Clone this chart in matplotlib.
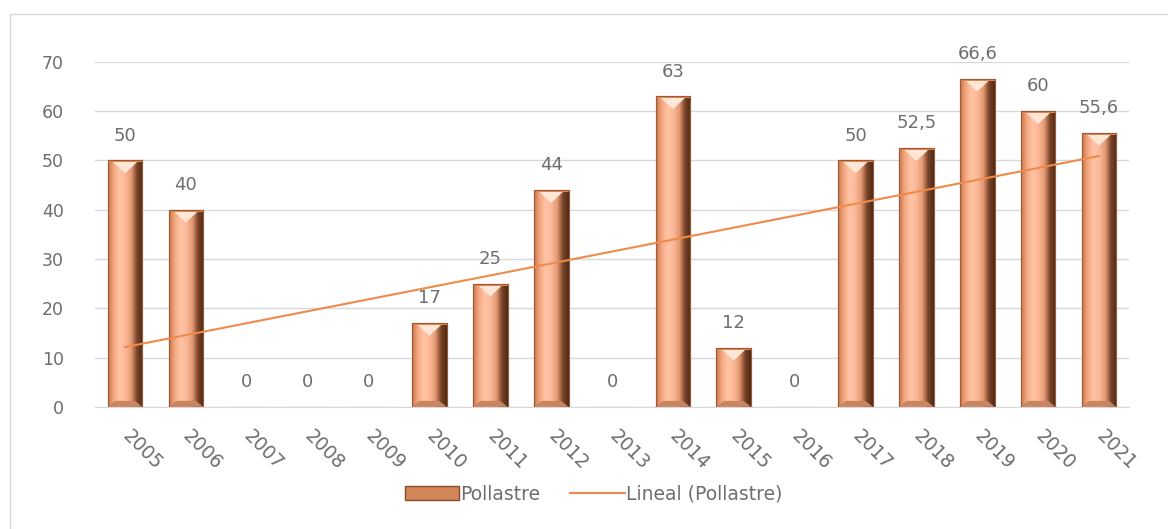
import numpy as np
import matplotlib.pyplot as plt
from matplotlib.colors import LinearSegmentedColormap
from matplotlib.patches import Polygon, Rectangle, Patch
from matplotlib.lines import Line2D

plt.rcParams['font.family'] = ['DejaVu Sans']

years = ['2005', '2006', '2007', '2008', '2009', '2010', '2011', '2012', '2013',
         '2014', '2015', '2016', '2017', '2018', '2019', '2020', '2021']
values = [50, 40, 0, 0, 0, 17, 25, 44, 0, 63, 12, 0, 50, 52.5, 66.6, 60, 55.6]
value_labels = ['50', '40', '0', '0', '0', '17', '25', '44', '0', '63', '12', '0',
                '50', '52,5', '66,6', '60', '55,6']

grey = '#6E6E6E'
x = np.arange(len(years))

fig = plt.figure(figsize=(11.68, 5.29), dpi=100)
ax = fig.add_axes([0.081, 0.231, 0.886, 0.652])

# chart border
fig.patches.append(Rectangle((10 / 1168, -0.1), 1.2, 1 - 14 / 529 + 0.1,
                             transform=fig.transFigure, fill=False,
                             edgecolor='#D9D9D9', lw=1))

bars = ax.bar(x, values, width=0.57, color='#F9B48E', edgecolor='#B5643A',
              lw=0.8, zorder=2)

# bevel shading for each bar
cmap = LinearSegmentedColormap.from_list(
    'bev', ['#C8774C', '#F5A881', '#FFC4A6', '#FBB897', '#E59A74', '#7A4428', '#4A2A18'])
grad = np.linspace(0, 1, 200).reshape(1, -1)
for b in bars:
    h = b.get_height()
    if h <= 0:
        continue
    x0, w = b.get_x(), b.get_width()
    im = ax.imshow(grad, cmap=cmap, aspect='auto', extent=(x0, x0 + w, 0, h),
                   zorder=2.1)
    im.set_clip_path(b)
    bh = 1.2
    bw = w * 0.22
    # top bevel
    ax.add_patch(Polygon([(x0 + 0.15 * w, h - 0.3), (x0 + 0.85 * w, h - 0.3),
                          (x0 + 0.5 * w, h - 2.6)],
                         closed=True, facecolor='#FFE6D6', edgecolor='none', zorder=2.2))
    ax.add_patch(Polygon([(x0, h), (x0 + w, h), (x0 + w, h - 0.4), (x0, h - 0.4)],
                         closed=True, facecolor='#E8854F', edgecolor='none', zorder=2.3))
    # bottom bevel
    ax.add_patch(Polygon([(x0, 0), (x0 + w, 0), (x0 + w - bw, bh), (x0 + bw, bh)],
                         closed=True, facecolor='#C98462', edgecolor='none', zorder=2.2))
    ax.add_patch(Rectangle((x0, 0), w, h, fill=False, edgecolor='#9A5A38', lw=0.8, zorder=2.4))

# linear trend
coef = np.polyfit(x, values, 1)
ax.plot(x, np.polyval(coef, x), color='#F08A4B', lw=1.5, zorder=3)

for xi, v, lab in zip(x, values, value_labels):
    ax.text(xi, v + 3.2, lab, ha='center', va='bottom', fontsize=13, color=grey, zorder=4)

ax.set_xlim(-0.5, len(years) - 0.5)
ax.set_ylim(0, 70)
ax.set_yticks(range(0, 71, 10))
ax.set_xticks(x)
ax.set_xticklabels(years, rotation=-45, ha='left', va='center', rotation_mode='anchor',
                   fontsize=13.5, color=grey)
ax.tick_params(axis='y', length=0, labelsize=12.5, labelcolor=grey, pad=22)
ax.tick_params(axis='x', length=0, pad=19)
ax.grid(axis='y', color='#D9D9D9', lw=1, zorder=0)
ax.set_axisbelow(True)
for s in ['top', 'right', 'left']:
    ax.spines[s].set_visible(False)
ax.spines['bottom'].set_color('#D9D9D9')

handles = [Patch(facecolor='#D08658', edgecolor='#8B4A2A', label='Pollastre'),
           Line2D([0], [0], color='#F08A4B', lw=1.5, label='Lineal (Pollastre)')]
fig.legend(handles=handles, loc='center', bbox_to_anchor=(0.508, 0.066), ncol=2,
           frameon=False, fontsize=13.5, labelcolor=grey, handlelength=2.9,
           handletextpad=0.05, columnspacing=1.6)

fig.savefig('out.png', dpi=100)
